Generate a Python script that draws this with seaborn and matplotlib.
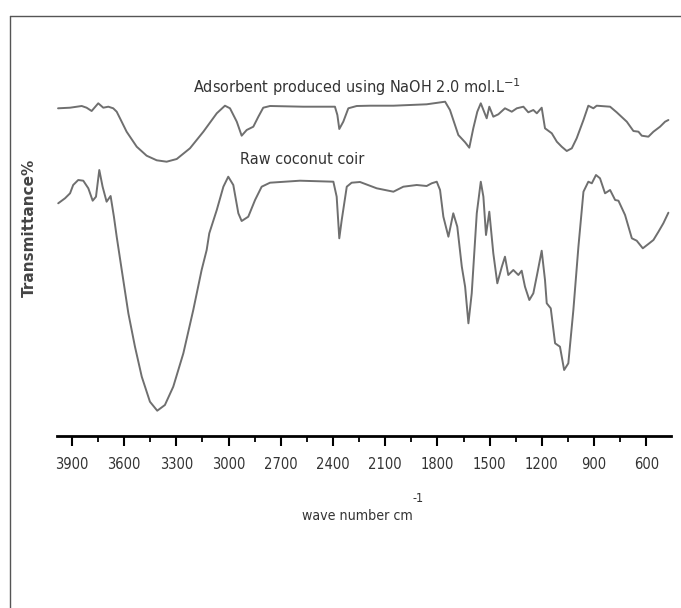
import matplotlib
matplotlib.use("Agg")
import matplotlib.pyplot as plt
from matplotlib.lines import Line2D
from matplotlib.ticker import FixedLocator, MultipleLocator
from matplotlib import font_manager
import seaborn as sns
import pandas as pd

# ---- data ----
naoh_wn = [3980, 3911, 3844, 3816, 3787, 3749, 3720, 3691, 3663, 3643, 3624, 3586, 3528, 3471,
           3413, 3356, 3298, 3222, 3145, 3068, 3021, 2992, 2953, 2925, 2896, 2858, 2829, 2801,
           2762, 2571, 2389, 2375, 2364, 2341, 2312, 2264, 2187, 2053, 1862, 1756, 1728, 1680,
           1641, 1617, 1594, 1571, 1551, 1532, 1517, 1502, 1479, 1450, 1412, 1373, 1344, 1306,
           1278, 1249, 1229, 1201, 1182, 1143, 1114, 1086, 1057, 1028, 1000, 961, 933, 904, 885,
           808, 770, 712, 674, 645, 626, 588, 559, 521, 492, 473]
naoh_t = [331.7, 332.3, 334.0, 332.3, 329.0, 336.7, 332.3, 333.3, 331.7, 328.3, 321.7, 308.3, 293.3,
          284.3, 279.7, 278.3, 281.0, 291.7, 308.3, 326.7, 334.3, 331.7, 318.3, 304.3, 310.0, 313.3,
          323.3, 332.3, 334.0, 333.3, 333.3, 325.0, 311.0, 318.3, 331.7, 334.0, 334.3, 334.3, 335.7,
          338.3, 330.0, 305.0, 297.7, 292.3, 311.7, 328.3, 336.7, 328.3, 321.7, 333.3, 323.3, 325.7,
          331.7, 328.3, 331.7, 333.3, 327.7, 330.0, 326.7, 332.3, 311.7, 306.7, 298.3, 293.3, 289.0,
          291.7, 301.7, 320.0, 334.3, 331.7, 334.3, 333.3, 327.7, 318.3, 309.0, 308.3, 304.3, 303.3,
          308.3, 313.3, 318.3, 320.0]

raw_wn = [3979, 3940, 3911, 3893, 3864, 3835, 3806, 3781, 3762, 3743, 3724, 3701, 3678, 3659, 3643,
          3614, 3576, 3538, 3499, 3452, 3410, 3366, 3318, 3260, 3203, 3155, 3126, 3111, 3068, 3030,
          3002, 2973, 2944, 2925, 2887, 2848, 2810, 2762, 2590, 2398, 2379, 2364, 2350, 2321, 2293,
          2245, 2149, 2053, 1996, 1919, 1862, 1833, 1804, 1785, 1766, 1737, 1709, 1686, 1660, 1641,
          1622, 1603, 1574, 1551, 1536, 1521, 1502, 1479, 1456, 1430, 1412, 1393, 1364, 1335, 1316,
          1297, 1272, 1249, 1226, 1201, 1182, 1172, 1149, 1124, 1096, 1072, 1048, 1019, 990, 961,
          933, 913, 889, 866, 837, 808, 779, 760, 722, 683, 655, 620, 588, 559, 530, 502, 473]
raw_t = [236.7, 241.7, 246.7, 255.0, 260.0, 259.3, 251.7, 239.3, 243.3, 270.0, 253.3, 238.3, 244.0,
         223.3, 203.3, 170.0, 126.7, 93.3, 63.3, 38.3, 29.3, 35.0, 53.3, 86.7, 130.0, 170.0, 190.0,
         206.7, 230.0, 253.3, 263.3, 255.0, 226.7, 219.0, 223.3, 240.0, 253.3, 257.3, 259.3, 258.3,
         243.3, 201.7, 220.0, 253.3, 257.3, 258.0, 251.7, 248.3, 253.3, 255.0, 254.0, 256.7, 258.3,
         250.0, 223.3, 203.3, 226.7, 213.3, 173.3, 153.3, 116.7, 146.7, 226.7, 258.3, 243.3, 205.0,
         228.3, 186.7, 156.7, 173.3, 183.3, 165.0, 170.0, 165.0, 169.3, 153.3, 140.0, 146.7, 166.7,
         189.3, 160.0, 136.7, 131.7, 96.7, 93.3, 70.0, 76.7, 130.0, 193.3, 248.3, 258.3, 256.7,
         265.0, 261.7, 246.7, 250.0, 240.0, 239.3, 225.0, 201.7, 199.3, 191.7, 196.0, 200.0, 208.3,
         216.7, 227.3]

tick_values = [3900, 3600, 3300, 3000, 2700, 2400, 2100, 1800, 1500, 1200, 900, 600]
label_naoh = "Adsorbent produced using NaOH 2.0 mol.L$^{-1}$"
label_raw = "Raw coconut coir"
x_label = "wave number cm"
y_label = "Transmittance%"

# ---- figure ----
sns.set_style("white")
# pick a narrow face if the system has one, else Liberation Sans (Arial metrics)
cond = [f for f in font_manager.fontManager.ttflist
        if f.name == "DejaVu Sans" and "ondensed" in f.fname and "Bold" not in f.fname
        and "Oblique" not in f.fname]
if cond:
    main_font = font_manager.FontProperties(fname=cond[0].fname)
    scale = 1.0
else:
    main_font = font_manager.FontProperties(family="Liberation Sans")
    scale = 0.95
plt.rcParams["font.family"] = ["Liberation Sans", "DejaVu Sans"]

W, H = 681, 608
fig = plt.figure(figsize=(W / 100, H / 100), dpi=100)
ax = fig.add_axes([57 / W, (H - 436) / H, (671 - 57) / W, (436 - 60) / H])

df_naoh = pd.DataFrame({"wn": naoh_wn, "T": naoh_t})
df_raw = pd.DataFrame({"wn": raw_wn, "T": raw_t})
line_color = "#6f6f6f"
sns.lineplot(data=df_naoh, x="wn", y="T", ax=ax, color=line_color, lw=1.4, sort=False, estimator=None)
sns.lineplot(data=df_raw, x="wn", y="T", ax=ax, color=line_color, lw=1.4, sort=False, estimator=None)

ax.set_xlim(3986, 458)
ax.set_ylim(4, 380)

for s in ["top", "right", "left"]:
    ax.spines[s].set_visible(False)
ax.spines["bottom"].set_color("black")
ax.spines["bottom"].set_linewidth(2.0)
ax.set_yticks([])
ax.xaxis.set_major_locator(FixedLocator(tick_values))
ax.xaxis.set_minor_locator(MultipleLocator(150))
ax.tick_params(axis="x", which="major", direction="out", length=7, width=1.5, color="black",
               labelcolor="#333333", pad=8, bottom=True)
ax.tick_params(axis="x", which="minor", direction="out", length=4, width=1.3, color="black", bottom=True)
ax.set_xticklabels([str(v) for v in tick_values])
for lab in ax.get_xticklabels():
    lab.set_fontproperties(main_font)
    lab.set_fontsize(10.5 * scale)

ax.set_xlabel("")
ax.set_ylabel("")

# annotations near curves
ax.text(2260, 353, label_naoh, ha="center", va="center", fontproperties=main_font,
        fontsize=11.6 * scale, color="#333333")
ax.text(2580, 280, label_raw, ha="center", va="center", fontproperties=main_font,
        fontsize=11.6 * scale, color="#333333")

# axis titles
fig.text(357 / W, 1 - 516 / H, x_label, ha="center", va="center", fontproperties=main_font,
         fontsize=10.2 * scale, color="#333333")
fig.text(418 / W, 1 - 499 / H, "-1", ha="center", va="center", fontproperties=main_font,
         fontsize=9 * scale, color="#333333")
fig.text(29 / W, 1 - 228 / H, y_label, ha="center", va="center", rotation=90,
         fontsize=11, fontweight="bold", color="#444444", family="DejaVu Sans")

# frame lines of the figure panel
fig.add_artist(Line2D([9.5 / W, 9.5 / W], [0, 1 - 15.5 / H], transform=fig.transFigure,
                      color="#555555", lw=1.0))
fig.add_artist(Line2D([9.5 / W, 1], [1 - 15.5 / H, 1 - 15.5 / H], transform=fig.transFigure,
                      color="#555555", lw=1.0))

fig.savefig("out.png", dpi=100)
